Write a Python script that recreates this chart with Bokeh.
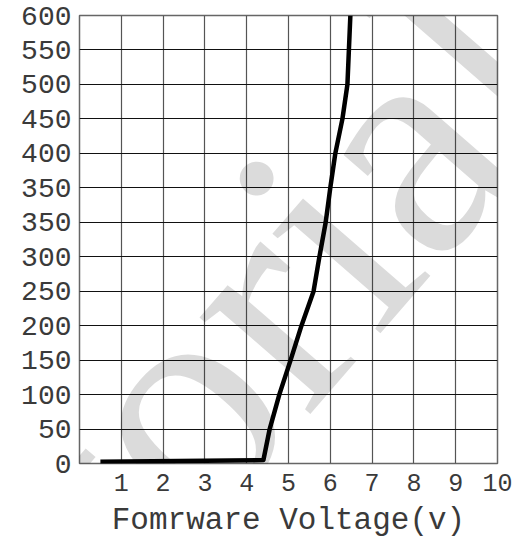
from bokeh.plotting import figure
from bokeh.models import FixedTicker, Range1d, Label
from bokeh.embed import file_html
from bokeh.resources import INLINE

# y-axis tick labels (as printed, bottom to top; "350" appears twice in the source)
y_tick_labels = ["0", "50", "100", "150", "200", "250", "300", "350",
                 "350", "400", "450", "500", "550", "600"]
x_ticks = [1, 2, 3, 4, 5, 6, 7, 8, 9, 10]

# curve: forward voltage (V) vs. position on the current grid
voltage = [0.5, 4.4, 4.55, 4.78, 5.05, 5.31, 5.6, 5.74, 5.89, 6.0, 6.12, 6.29, 6.41, 6.48]
current_grid = [0.05, 0.1, 1, 2, 3, 4, 5, 6, 7, 8, 9, 10, 11, 13]

FONT = "Liberation Mono"

p = figure(width=532, height=540,
           x_range=Range1d(0, 10), y_range=Range1d(0, len(y_tick_labels) - 1),
           output_backend="svg", toolbar_location=None,
           min_border_left=79, min_border_right=35,
           min_border_top=15, min_border_bottom=77)

p.background_fill_color = "white"
p.border_fill_color = "white"
p.outline_line_color = "#666666"
p.outline_line_width = 1.5

# x axis
p.xaxis.ticker = FixedTicker(ticks=x_ticks)
p.xaxis.axis_line_color = None
p.xaxis.major_tick_line_color = None
p.xaxis.minor_tick_line_color = None
p.xaxis.major_tick_out = 0
p.xaxis.major_label_standoff = 10
p.xaxis.major_label_text_font = FONT
p.xaxis.major_label_text_font_size = "25px"
p.xaxis.major_label_text_color = "#3a3a3a"
p.xaxis.axis_label = "Fomrware Voltage(v)"
p.xaxis.axis_label_text_font = FONT
p.xaxis.axis_label_text_font_size = "31px"
p.xaxis.axis_label_text_font_style = "normal"
p.xaxis.axis_label_text_color = "#3a3a3a"
p.xaxis.axis_label_standoff = 9

# y axis
p.yaxis.ticker = FixedTicker(ticks=list(range(len(y_tick_labels))))
p.yaxis.major_label_overrides = {i: s for i, s in enumerate(y_tick_labels)}
p.yaxis.axis_line_color = None
p.yaxis.major_tick_line_color = None
p.yaxis.minor_tick_line_color = None
p.yaxis.major_tick_out = 0
p.yaxis.major_label_standoff = 8
p.yaxis.major_label_text_font = FONT
p.yaxis.major_label_text_font_size = "28px"
p.yaxis.major_label_text_color = "#3a3a3a"

# grid
p.xgrid.ticker = FixedTicker(ticks=x_ticks)
p.xgrid.grid_line_color = "#555555"
p.xgrid.grid_line_width = 1.2
p.ygrid.ticker = FixedTicker(ticks=list(range(len(y_tick_labels))))
p.ygrid.grid_line_color = "#111111"
p.ygrid.grid_line_width = 1.2

p.line(voltage, current_grid, line_color="black", line_width=4.5, line_join="round")

# watermark (semi-transparent)
wm = Label(x=-244, y=-332, x_units="screen", y_units="screen",
           text="Tutorial", angle=49, angle_units="deg",
           text_font="Liberation Serif", text_font_size="320px",
           text_color="black", text_alpha=0.14,
           text_align="left", text_baseline="alphabetic")
p.add_layout(wm)

open("out.html", "w").write(file_html(p, INLINE))
